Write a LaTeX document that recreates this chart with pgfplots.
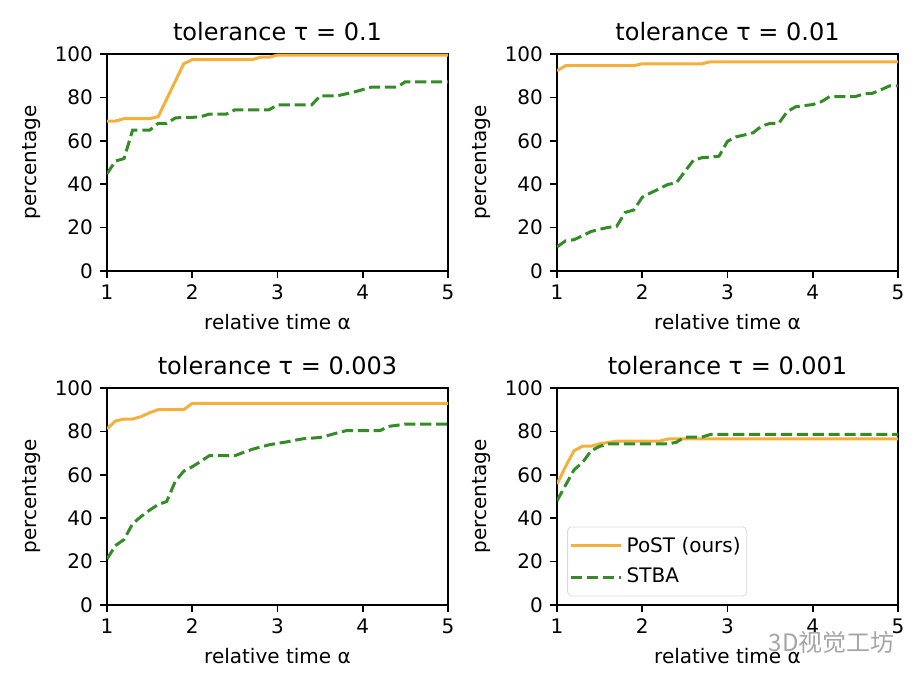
\documentclass[border=0pt]{standalone}
\usepackage{fontspec}
\setmainfont{DejaVu Sans}
\newfontfamily\cjk{Noto Sans CJK SC}
\usepackage{pgfplots}
\pgfplotsset{compat=1.18}

\definecolor{post}{RGB}{245,176,60}
\definecolor{stba}{RGB}{52,140,38}

\pgfplotsset{
 myax/.style={
  scale only axis, width=170.5pt, height=108.5pt,
  xmin=1,xmax=5,ymin=0,ymax=100,
  xtick={1,2,3,4,5}, ytick={0,20,40,60,80,100},
  tick align=outside, major tick length=3.5pt,
  xtick pos=lower, ytick pos=left,
  tick style={line width=0.8pt, black},
  axis line style={line width=0.8pt},
  ticklabel style={font=\fontsize{10}{12}\selectfont},
  /pgf/number format/assume math mode=true,
  xlabel={relative time α}, ylabel={percentage},
  label style={font=\fontsize{10}{12}\selectfont},
  title style={font=\fontsize{12}{14}\selectfont, yshift=-3pt},
  post/.style={color=post, line width=1.5pt},
  stba/.style={color=stba, line width=1.5pt, dash pattern=on 5.55pt off 2.4pt},
 }
}

\begin{document}
\begin{tikzpicture}
\path[use as bounding box] (0,0) rectangle (462pt,342pt);

% tau = 0.1
\begin{axis}[myax, at={(53.5pt,206.5pt)}, anchor=south west, title={tolerance τ = 0.1}]
\addplot[post] coordinates {(1,69.1)(1.1,69.1)(1.2,70.2)(1.3,70.2)(1.4,70.2)(1.5,70.2)(1.6,71.1)(1.7,79.2)(1.8,87.4)(1.9,95.5)(2.0,97.4)(2.1,97.4)(2.2,97.4)(2.3,97.4)(2.4,97.4)(2.5,97.4)(2.6,97.4)(2.7,97.4)(2.8,98.5)(2.9,98.5)(3.0,99.5)(5,99.5)};
\addplot[stba] coordinates {(1,44.8)(1.1,50.7)(1.2,51.8)(1.3,64.9)(1.4,64.9)(1.5,64.9)(1.6,68)(1.7,68)(1.8,70.5)(1.9,70.8)(2.0,70.8)(2.1,71.1)(2.2,72.3)(2.3,72.3)(2.4,72.3)(2.5,74.3)(2.6,74.3)(2.7,74.3)(2.8,74.3)(2.9,74.3)(3.0,76.5)(3.1,76.5)(3.2,76.5)(3.3,76.5)(3.4,76.5)(3.5,80.7)(3.6,80.7)(3.7,80.7)(3.8,81.6)(3.9,82.5)(4.0,83.6)(4.1,84.7)(4.2,84.7)(4.3,84.7)(4.4,84.7)(4.5,87.2)(5,87.2)};
\end{axis}

% tau = 0.01
\begin{axis}[myax, at={(278.5pt,206.5pt)}, anchor=south west, title={tolerance τ = 0.01}]
\addplot[post] coordinates {(1,92.3)(1.1,94.6)(1.9,94.6)(2.0,95.5)(2.7,95.5)(2.8,96.4)(5,96.4)};
\addplot[stba] coordinates {(1,11.1)(1.1,13.9)(1.2,14.4)(1.3,16.3)(1.4,18.2)(1.5,19.2)(1.6,20.1)(1.7,20.6)(1.8,27)(1.9,28.1)(2.0,34)(2.1,36)(2.2,37.9)(2.3,39.9)(2.4,40.6)(2.5,45.9)(2.6,51)(2.7,52.2)(2.8,52.5)(2.9,52.9)(3.0,59.8)(3.1,61.8)(3.2,62.7)(3.3,63.7)(3.4,66.8)(3.5,68)(3.6,68)(3.7,73.4)(3.8,75.7)(3.9,76.2)(4.0,76.7)(4.1,78)(4.2,80.4)(4.3,80.4)(4.4,80.4)(4.5,80.4)(4.6,81.6)(4.7,81.9)(4.8,83.5)(4.9,85.3)(5,85.3)};
\end{axis}

% tau = 0.003
\begin{axis}[myax, at={(53.5pt,39.5pt)}, anchor=south west, title={tolerance τ = 0.003}]
\addplot[post] coordinates {(1,81.2)(1.1,84.8)(1.2,85.7)(1.3,85.7)(1.4,86.8)(1.5,88.6)(1.6,90)(1.7,90)(1.8,90)(1.9,90)(2.0,92.9)(5,92.9)};
\addplot[stba] coordinates {(1,21.2)(1.1,27.4)(1.2,30.2)(1.3,37.4)(1.4,40.8)(1.5,43.7)(1.6,46.3)(1.7,47.7)(1.8,56.9)(1.9,61.7)(2.0,63.7)(2.1,66.2)(2.2,68.8)(2.3,68.8)(2.4,68.8)(2.5,68.8)(2.6,70.3)(2.7,71.7)(2.8,72.8)(2.9,73.8)(3.0,74.5)(3.1,75.1)(3.2,75.9)(3.3,76.6)(3.4,76.9)(3.5,77.2)(3.6,78.2)(3.7,79.3)(3.8,80.3)(3.9,80.3)(4.0,80.3)(4.1,80.3)(4.2,80.3)(4.3,82.3)(4.4,82.8)(4.5,83.4)(5,83.4)};
\end{axis}

% tau = 0.001
\begin{axis}[myax, at={(278.5pt,39.5pt)}, anchor=south west, title={tolerance τ = 0.001},
  legend style={at={(0.03,0.04)}, anchor=south west, draw=black!15, rounded corners=2pt,
    font=\fontsize{10}{12}\selectfont, fill=white, inner xsep=1pt, inner ysep=3pt,
    row sep=2.5pt},
  legend cell align=left,
  legend image code/.code={\draw[#1] (0pt,0pt) -- (21pt,0pt); \path (0pt,0pt) -- (25pt,0pt);}]
\addplot[post] coordinates {(1,55.7)(1.1,63.8)(1.2,71.1)(1.3,73.2)(1.4,73.2)(1.5,74.3)(1.6,74.9)(1.7,75.5)(2.2,75.5)(2.3,76.5)(5,76.5)};
\addlegendentry{PoST (ours)}
\addplot[stba] coordinates {(1,48)(1.1,55.2)(1.2,62.3)(1.3,65.7)(1.4,71.1)(1.5,73.1)(1.6,74.2)(2.2,74.2)(2.3,74.2)(2.4,75)(2.5,77.4)(2.7,77.4)(2.8,78.6)(5,78.6)};
\addlegendentry{STBA}
\end{axis}

\node[text=black!35, font=\cjk\fontsize{12}{14}\selectfont, anchor=east, inner sep=0pt] at (447.5pt,21pt) {3D视觉工坊};
\end{tikzpicture}
\end{document}
